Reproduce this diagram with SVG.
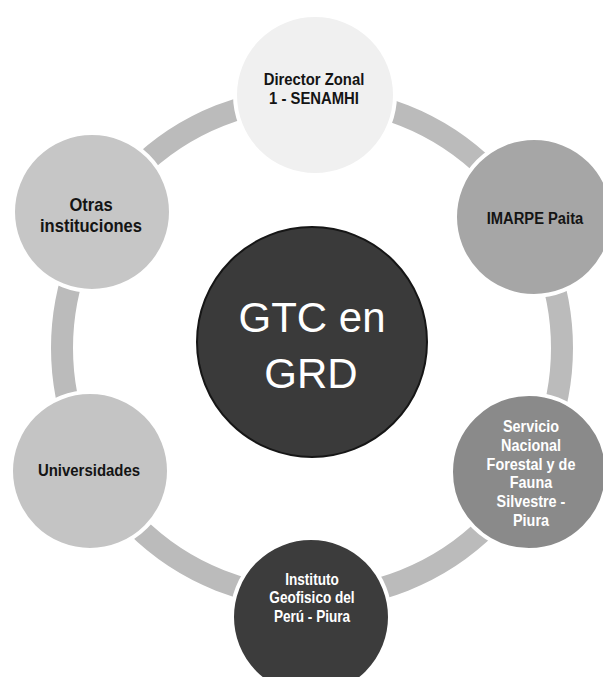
<svg xmlns="http://www.w3.org/2000/svg" width="603" height="677" viewBox="0 0 603 677">
<style>
.ring{fill:none;stroke:#bbbbbb;stroke-width:22}
.node{stroke:#ffffff;stroke-width:4}
.lbl{font-family:"Liberation Sans",Arial,Helvetica,sans-serif;font-weight:bold;text-anchor:middle}
.dk{fill:#141414}
.wt{fill:#ffffff}
.big{font-family:"Liberation Sans",Arial,Helvetica,sans-serif;font-size:42px;fill:#ffffff;text-anchor:middle}
</style>
<rect width="603" height="677" fill="#ffffff"/>
<g id="connectors">
  <circle class="ring" cx="312" cy="348" r="250"/>
</g>
<g id="node-director">
  <circle class="node" cx="315" cy="95" r="80" fill="#f0f0f0"/>
  <g transform="translate(314 0) scale(0.9 1)">
    <text class="lbl dk" x="0" y="85" font-size="16.5">Director Zonal</text>
    <text class="lbl dk" x="0" y="104" font-size="16.5">1 - SENAMHI</text>
  </g>
</g>
<g id="node-imarpe">
  <circle class="node" cx="534" cy="217" r="79" fill="#a6a6a6"/>
  <g transform="translate(535 0) scale(0.92 1)">
    <text class="lbl dk" x="0" y="224" font-size="16">IMARPE Paita</text>
  </g>
</g>
<g id="node-serfor">
  <circle class="node" cx="529" cy="472" r="78" fill="#8a8a8a"/>
  <g transform="translate(531 0) scale(0.9 1)">
    <text class="lbl wt" x="0" y="432" font-size="16">Servicio</text>
    <text class="lbl wt" x="0" y="451" font-size="16">Nacional</text>
    <text class="lbl wt" x="0" y="470" font-size="16">Forestal y de</text>
    <text class="lbl wt" x="0" y="488" font-size="16">Fauna</text>
    <text class="lbl wt" x="0" y="507" font-size="16">Silvestre -</text>
    <text class="lbl wt" x="0" y="526" font-size="16">Piura</text>
  </g>
</g>
<g id="node-igp">
  <circle class="node" cx="311" cy="617" r="79" fill="#3c3c3c"/>
  <g transform="translate(312 0) scale(0.85 1)">
    <text class="lbl wt" x="0" y="585" font-size="16">Instituto</text>
    <text class="lbl wt" x="0" y="603" font-size="16">Geofisico del</text>
    <text class="lbl wt" x="0" y="622" font-size="16">Perú - Piura</text>
  </g>
</g>
<g id="node-universidades">
  <circle class="node" cx="90" cy="471" r="79" fill="#c4c4c4"/>
  <g transform="translate(89 0) scale(0.88 1)">
    <text class="lbl dk" x="0" y="476" font-size="17">Universidades</text>
  </g>
</g>
<g id="node-otras">
  <circle class="node" cx="92" cy="212" r="79" fill="#c6c6c6"/>
  <g transform="translate(91 0) scale(0.92 1)">
    <text class="lbl dk" x="0" y="211" font-size="18">Otras</text>
    <text class="lbl dk" x="0" y="232" font-size="18">instituciones</text>
  </g>
</g>
<g id="node-gtc">
  <circle cx="312" cy="342" r="115" fill="#3a3a3a" stroke="#161616" stroke-width="2"/>
  <text class="big" x="312" y="332">GTC en</text>
  <text class="big" x="311" y="388">GRD</text>
</g>
</svg>
